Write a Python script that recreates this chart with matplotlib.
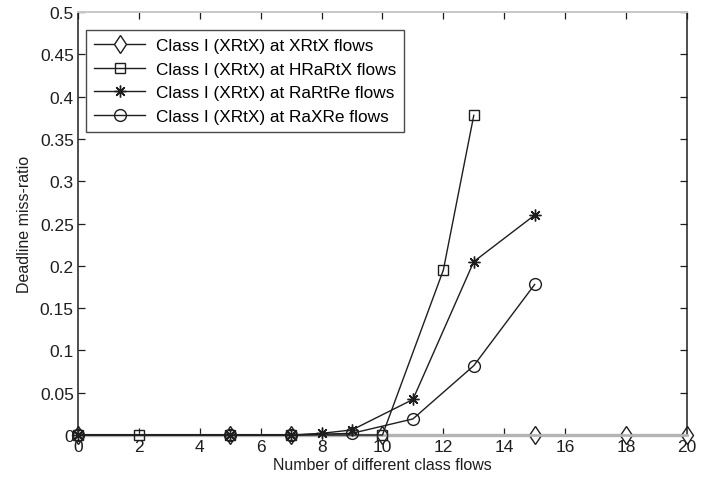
import matplotlib
matplotlib.use("Agg")
import matplotlib.pyplot as plt

plt.rcParams['font.family'] = ['Liberation Sans', 'DejaVu Sans']

# deadline miss-ratio per flow mix
x_xrtx = [0, 5, 7, 10, 15, 18, 20]
y_xrtx = [0, 0, 0, 0, 0, 0, 0]

x_hrartx = [0, 2, 5, 7, 10, 12, 13]
y_hrartx = [0, 0, 0, 0, 0, 0.195, 0.378]

x_rartre = [0, 5, 7, 8, 9, 11, 13, 15]
y_rartre = [0, 0, 0, 0.002, 0.006, 0.042, 0.205, 0.26]

x_raxre = [0, 5, 7, 9, 11, 13, 15]
y_raxre = [0, 0, 0, 0.002, 0.019, 0.082, 0.178]

labels = ["Class I (XRtX) at XRtX flows",
          "Class I (XRtX) at HRaRtX flows",
          "Class I (XRtX) at RaRtRe flows",
          "Class I (XRtX) at RaXRe flows"]

dark = '#1e1e1e'
grey = '#b4b4b4'

fig = plt.figure(figsize=(7.13, 4.85), dpi=100)
ax = fig.add_axes([0.1094, 0.101, 0.854, 0.872])

ax.plot(x_xrtx, y_xrtx, color=grey, lw=2.4, marker='d', ms=9.5,
        mfc='white', mec=dark, mew=1.0, label=labels[0], zorder=2,
        clip_on=False)
ax.plot(x_hrartx, y_hrartx, color=dark, lw=1.0, marker='s', ms=6.5,
        mfc='none', mec=dark, mew=1.0, label=labels[1], zorder=3,
        clip_on=False)
ax.plot(x_rartre, y_rartre, color=dark, lw=1.0, marker=(8, 2, 0), ms=8.5,
        mfc='none', mec=dark, mew=1.0, label=labels[2], zorder=3,
        clip_on=False)
ax.plot(x_raxre, y_raxre, color=dark, lw=1.0, marker='o', ms=8.5,
        mfc='none', mec=dark, mew=1.0, label=labels[3], zorder=3,
        clip_on=False)

ax.set_xlim(0, 20)
ax.set_ylim(0, 0.5)
ax.set_xticks(range(0, 21, 2))
ax.set_yticks([i * 0.05 for i in range(11)])
ax.set_yticklabels(['0', '0.05', '0.1', '0.15', '0.2', '0.25', '0.3',
                    '0.35', '0.4', '0.45', '0.5'])
ax.tick_params(direction='in', top=True, right=True, labelsize=12.5,
               length=5, width=0.9, color=dark, labelcolor=dark, pad=3)
for side in ['left', 'right']:
    ax.spines[side].set_linewidth(1.1)
    ax.spines[side].set_color(dark)
ax.spines['top'].set_linewidth(1.4)
ax.spines['top'].set_color('#c8c8c8')
ax.spines['bottom'].set_linewidth(2.0)
ax.spines['bottom'].set_color(grey)

ax.set_xlabel("Number of different class flows", fontsize=11.5,
              color=dark, labelpad=2)
ax.set_ylabel("Deadline miss-ratio", fontsize=11.5, color=dark, labelpad=6)

leg = ax.legend(loc='upper left', bbox_to_anchor=(0.013, 0.957),
                fontsize=12.4, frameon=True, fancybox=False, edgecolor=dark,
                handlelength=3.0, handletextpad=0.6, labelspacing=0.5,
                borderpad=0.45, borderaxespad=0)
leg.get_frame().set_linewidth(1.0)
leg.legend_handles[0].set_color(dark)
leg.legend_handles[0].set_linewidth(1.0)

fig.savefig("out.png", dpi=100)
